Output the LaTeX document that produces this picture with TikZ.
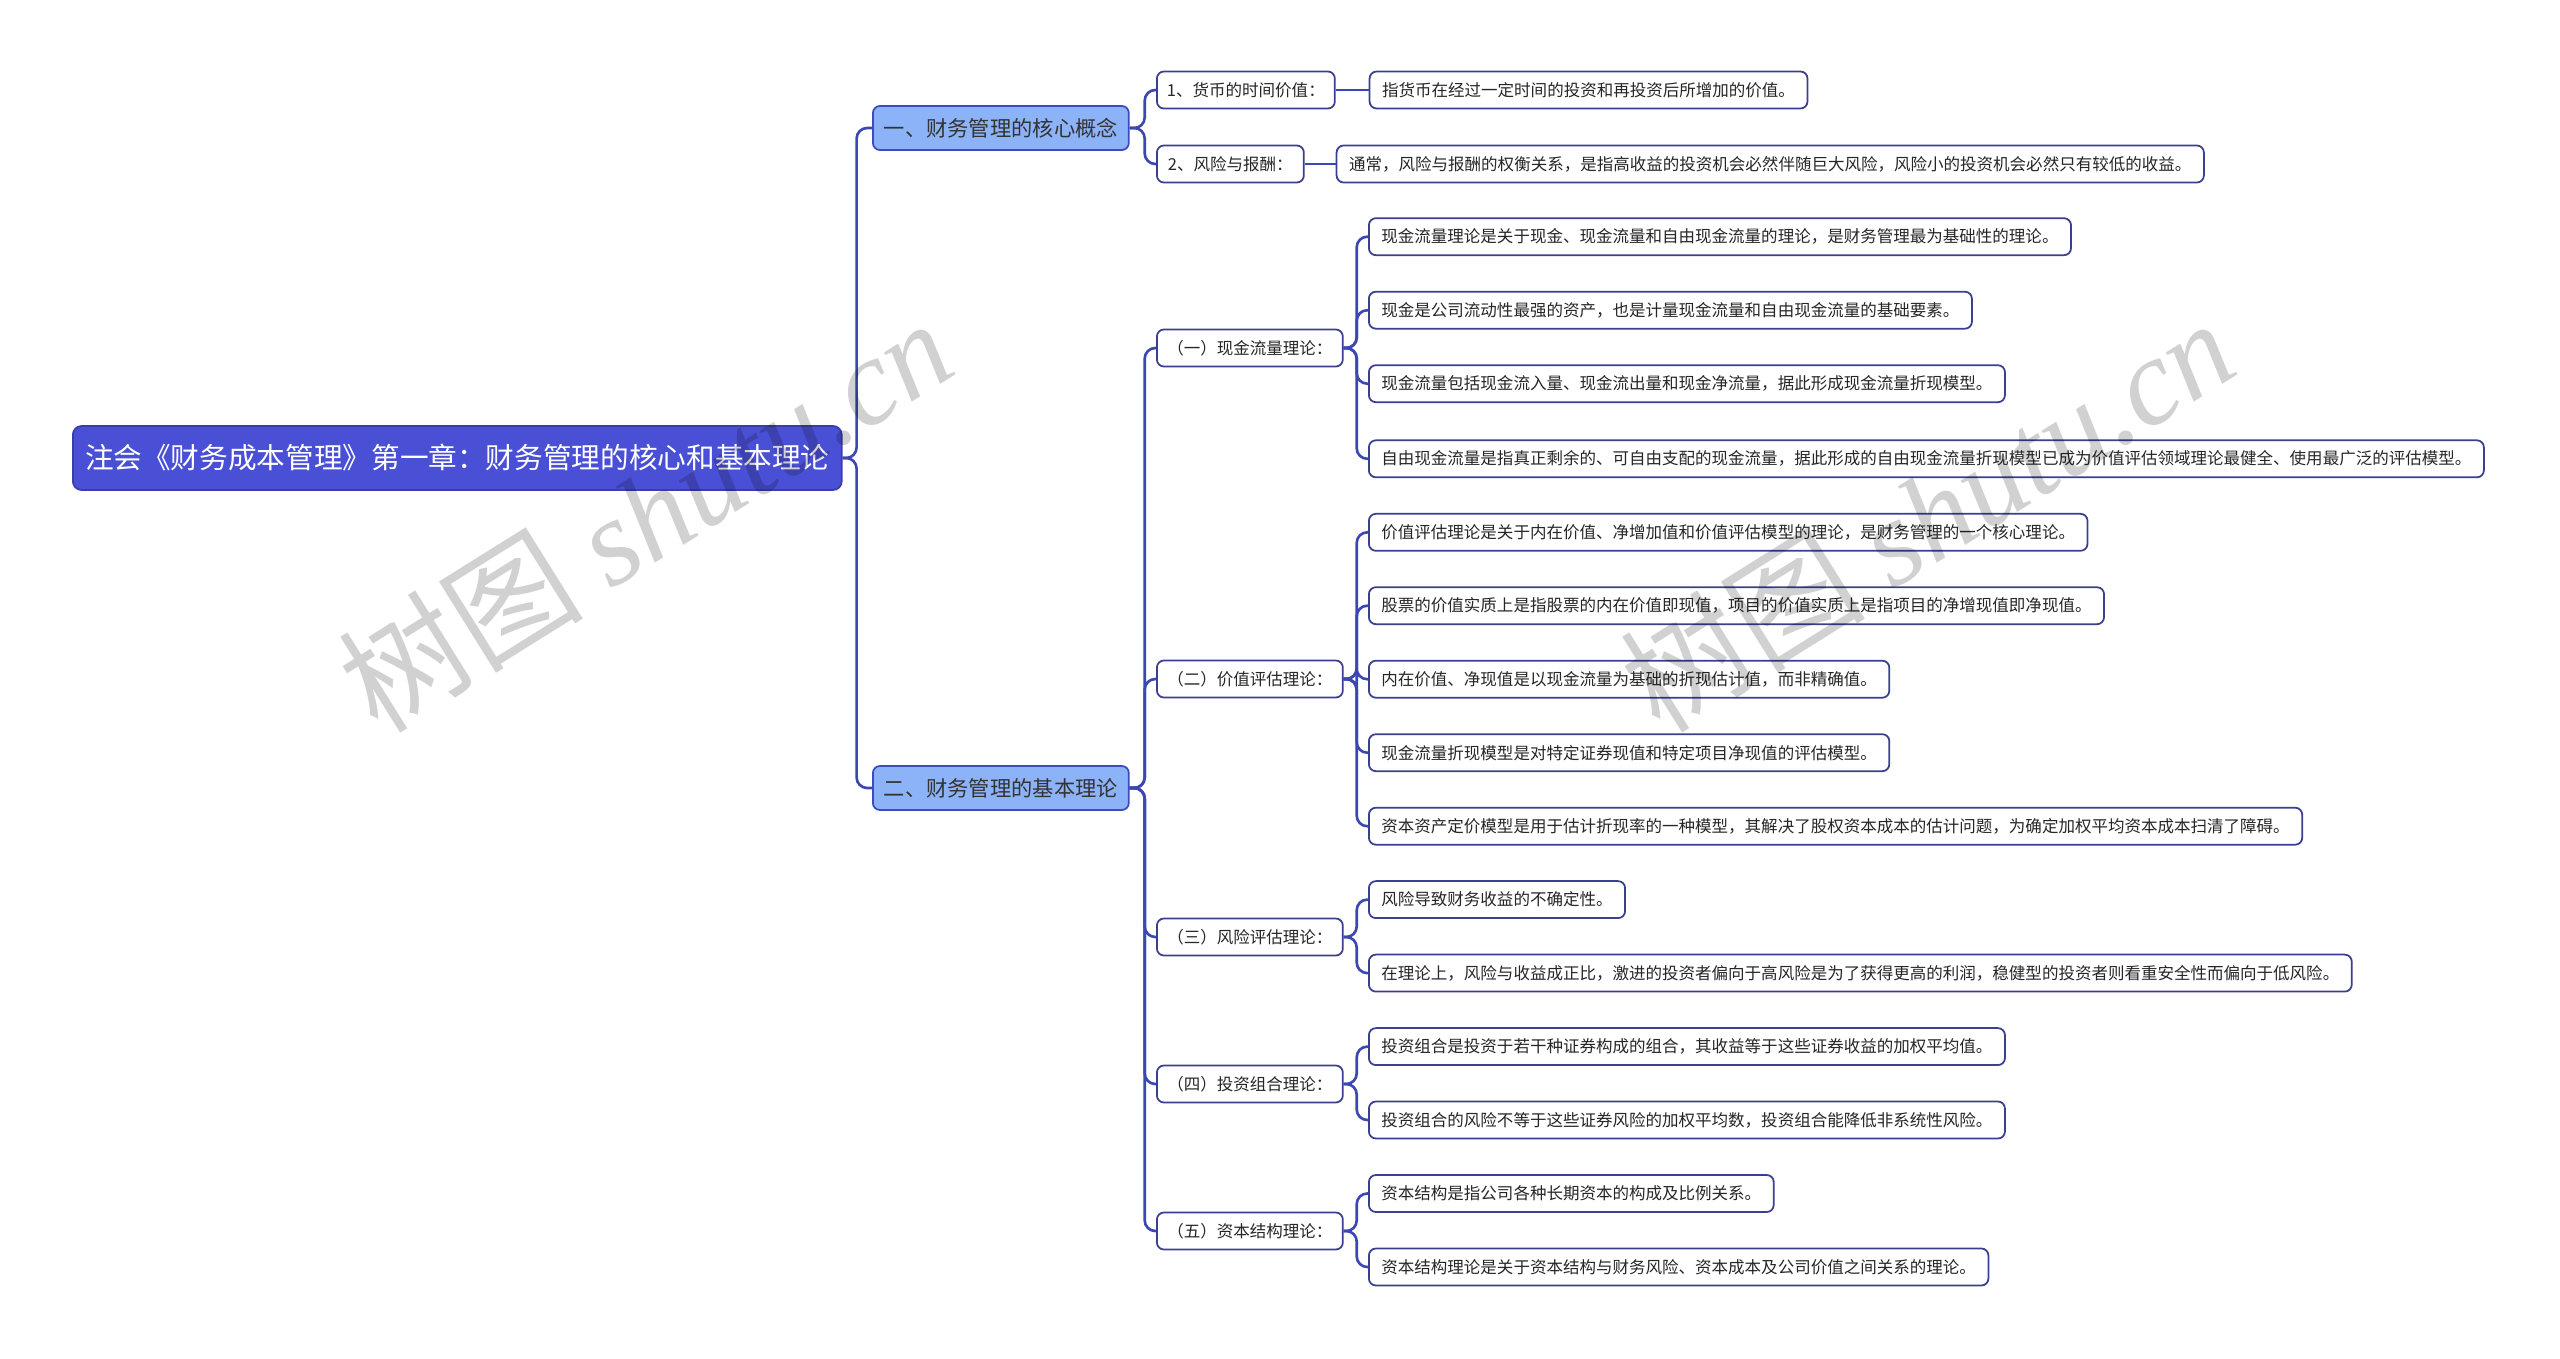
\documentclass[tikz,border=0pt]{standalone}
\usepackage{fontspec}
\setmainfont{Noto Sans CJK SC}
\newfontfamily\wmfont{Liberation Serif}
\usepackage{tikz}
\usetikzlibrary{positioning}

\definecolor{rootfill}{RGB}{74,80,214}
\definecolor{rootedge}{RGB}{58,62,170}
\definecolor{topicfill}{RGB}{140,178,247}
\definecolor{topicedge}{RGB}{60,76,184}
\definecolor{leafedge}{RGB}{58,63,143}
\definecolor{linkblue}{RGB}{61,71,179}

\begin{document}
\begin{tikzpicture}[x=0.02cm, y=-0.02cm,
  rootbox/.style  = {draw=rootedge, fill=rootfill, text=white, rounded corners=5pt, line width=1pt,
                     minimum width=15.38cm, minimum height=1.28cm, anchor=west,
                     font=\fontsize{16.3}{18}\selectfont},
  topicbox/.style = {draw=topicedge, fill=topicfill, text=black!80, rounded corners=4pt, line width=1pt,
                     minimum width=5.12cm, minimum height=0.88cm, anchor=west,
                     font=\fontsize{12.1}{14}\selectfont},
  subbox/.style   = {draw=leafedge, fill=white, text=black!85, rounded corners=4pt, line width=1pt,
                     minimum height=0.74cm, anchor=west, font=\fontsize{9.4}{11}\selectfont},
  leafbox/.style  = {subbox, inner xsep=0.25cm},
  link/.style     = {draw=linkblue, line width=1.5pt, rounded corners=6pt},
  wmark/.style    = {text=black, text opacity=0.18, rotate=32, font=\fontsize{70}{70}\selectfont},
]

\fill[white] (0,0) rectangle (2560,1359);
\useasboundingbox (0,0) rectangle (2560,1359);

\node[rootbox] (root) at (72,458) {注会《财务成本管理》第一章：财务管理的核心和基本理论};

\node[topicbox] (core)  at (872,128) {一、财务管理的核心概念};
\node[topicbox] (basic) at (872,788) {二、财务管理的基本理论};
\draw[link] (root.east) -- ++(0.28cm,0) |- (core.west);
\draw[link] (root.east) -- ++(0.28cm,0) |- (basic.west);

% core concepts
\node[subbox, minimum width=3.56cm] (tv)   at (1156,90)  {1、货币的时间价值：};
\node[subbox, minimum width=2.94cm] (risk) at (1156,164) {2、风险与报酬：};
\draw[link] (core.east) -- ++(0.3cm,0) |- (tv.west);
\draw[link] (core.east) -- ++(0.3cm,0) |- (risk.west);

\node[leafbox, right=0.66cm of tv]   (tvdef)   {指货币在经过一定时间的投资和再投资后所增加的价值。};
\node[leafbox, right=0.62cm of risk] (riskdef) {通常，风险与报酬的权衡关系，是指高收益的投资机会必然伴随巨大风险，风险小的投资机会必然只有较低的收益。};
\draw[link] (tv) -- (tvdef);
\draw[link] (risk) -- (riskdef);

% basic theories
\foreach \n/\y/\t in {cft/348/{（一）现金流量理论：}, vat/679/{（二）价值评估理论：},
                      rat/937/{（三）风险评估理论：}, pft/1084/{（四）投资组合理论：},
                      cst/1231/{（五）资本结构理论：}}{
  \node[subbox, minimum width=3.72cm] (\n) at (1156,\y) {\t};
  \draw[link] (basic.east) -- ++(0.3cm,0) |- (\n.west);
}

\foreach \i/\y/\t in {
  1/236.7/{现金流量理论是关于现金、现金流量和自由现金流量的理论，是财务管理最为基础性的理论。},
  2/310.2/{现金是公司流动性最强的资产，也是计量现金流量和自由现金流量的基础要素。},
  3/383.7/{现金流量包括现金流入量、现金流出量和现金净流量，据此形成现金流量折现模型。},
  4/458.8/{自由现金流量是指真正剩余的、可自由支配的现金流量，据此形成的自由现金流量折现模型已成为价值评估领域理论最健全、使用最广泛的评估模型。}}{
  \node[leafbox] (cf\i) at (1368,\y) {\t};
  \draw[link] (cft.east) -- ++(0.26cm,0) |- (cf\i.west);
}

\foreach \i/\y/\t in {
  1/532.3/{价值评估理论是关于内在价值、净增加值和价值评估模型的理论，是财务管理的一个核心理论。},
  2/605.7/{股票的价值实质上是指股票的内在价值即现值，项目的价值实质上是指项目的净增现值即净现值。},
  3/679.2/{内在价值、净现值是以现金流量为基础的折现估计值，而非精确值。},
  4/752.7/{现金流量折现模型是对特定证券现值和特定项目净现值的评估模型。},
  5/826.2/{资本资产定价模型是用于估计折现率的一种模型，其解决了股权资本成本的估计问题，为确定加权平均资本成本扫清了障碍。}}{
  \node[leafbox] (va\i) at (1368,\y) {\t};
  \draw[link] (vat.east) -- ++(0.26cm,0) |- (va\i.west);
}

\foreach \i/\y/\t in {
  1/899.6/{风险导致财务收益的不确定性。},
  2/973.1/{在理论上，风险与收益成正比，激进的投资者偏向于高风险是为了获得更高的利润，稳健型的投资者则看重安全性而偏向于低风险。}}{
  \node[leafbox] (ra\i) at (1368,\y) {\t};
  \draw[link] (rat.east) -- ++(0.26cm,0) |- (ra\i.west);
}

\foreach \i/\y/\t in {
  1/1046.6/{投资组合是投资于若干种证券构成的组合，其收益等于这些证券收益的加权平均值。},
  2/1120/{投资组合的风险不等于这些证券风险的加权平均数，投资组合能降低非系统性风险。}}{
  \node[leafbox] (pf\i) at (1368,\y) {\t};
  \draw[link] (pft.east) -- ++(0.26cm,0) |- (pf\i.west);
}

\foreach \i/\y/\t in {
  1/1193.5/{资本结构是指公司各种长期资本的构成及比例关系。},
  2/1267/{资本结构理论是关于资本结构与财务风险、资本成本及公司价值之间关系的理论。}}{
  \node[leafbox] (cs\i) at (1368,\y) {\t};
  \draw[link] (cst.east) -- ++(0.26cm,0) |- (cs\i.west);
}

% watermarks
\foreach \wx/\wy/\wn in {645/514/wma, 1927/514/wmb}{
  \node[wmark] (\wn) at (\wx,\wy) {树图 {\wmfont\itshape shutu.cn}};
}

\end{tikzpicture}
\end{document}
